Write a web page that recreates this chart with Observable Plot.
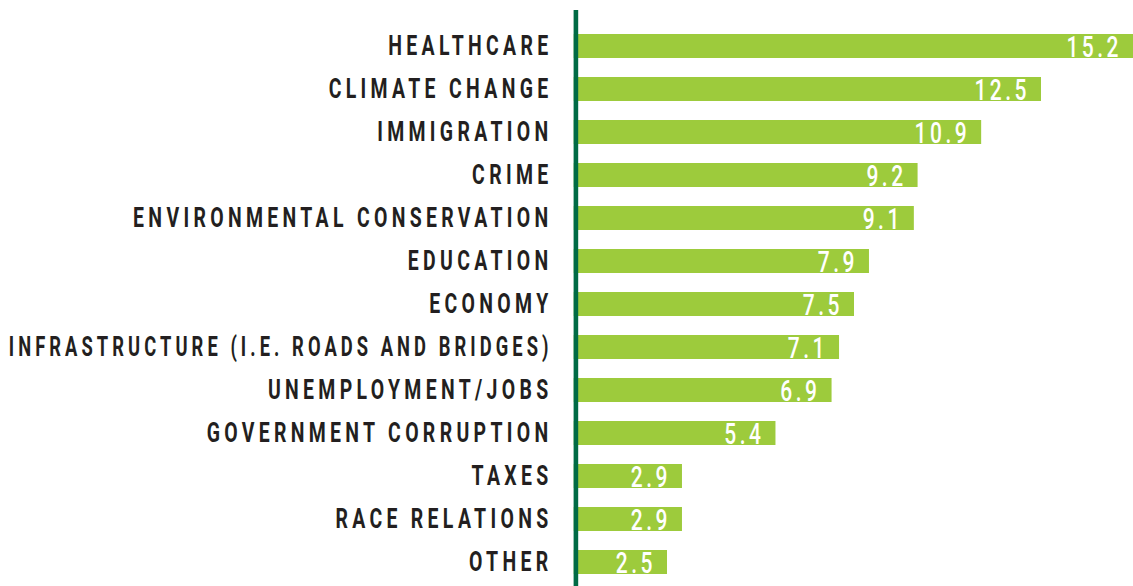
<!DOCTYPE html>
<html>
<head>
<meta charset="utf-8">
<script src="https://cdn.jsdelivr.net/npm/d3@7"></script>
<script src="https://cdn.jsdelivr.net/npm/@observablehq/plot@0.6"></script>
<style>
  html, body { margin: 0; padding: 0; background: #fff; overflow: hidden; }
  #chart svg { overflow: hidden; }
  .yl text { letter-spacing: 6px; }
  .vl text { letter-spacing: 5px; }
</style>
</head>
<body>
<div id="chart"></div>
<script>
const categories = [
  "HEALTHCARE",
  "CLIMATE CHANGE",
  "IMMIGRATION",
  "CRIME",
  "ENVIRONMENTAL CONSERVATION",
  "EDUCATION",
  "ECONOMY",
  "INFRASTRUCTURE (I.E. ROADS AND BRIDGES)",
  "UNEMPLOYMENT/JOBS",
  "GOVERNMENT CORRUPTION",
  "TAXES",
  "RACE RELATIONS",
  "OTHER"
];
const values = [15.2, 12.5, 10.9, 9.2, 9.1, 7.9, 7.5, 7.1, 6.9, 5.4, 2.9, 2.9, 2.5];
const valueLabels = ["15.2", "12.5", "10.9", "9.2", "9.1", "7.9", "7.5", "7.1", "6.9", "5.4", "2.9", "2.9", "2.5"];

const data = categories.map((c, i) => ({category: c, value: values[i], label: valueLabels[i]}));

const W = 1133, H = 586;
const marginLeft = 573.5;
const pxPerUnit = 37.4;
const xMax = (W - marginLeft) / pxPerUnit;
const tickPadding = 21.5;
const labelSqueeze = 0.72;
const valueSqueeze = 0.7;

const chart = Plot.plot({
  width: W,
  height: H,
  marginLeft: marginLeft,
  marginRight: 0,
  marginTop: 24.4,
  marginBottom: 3.4,
  style: {background: "#fff"},
  x: {domain: [0, xMax], axis: null},
  y: {domain: categories, paddingInner: 0.443, paddingOuter: 0.2, label: null},
  marks: [
    Plot.barX(data, {x: "value", y: "category", fill: "#9DCB3C", clip: true}),
    Plot.text(data, {
      x: d => Math.min(d.value, xMax), y: "category", text: "label",
      textAnchor: "end", dx: -11.5, dy: 1, fill: "#fff",
      fontSize: 30, fontWeight: 500, fontFamily: "Roboto, sans-serif",
      className: "vl"
    }),
    Plot.ruleX([0], {stroke: "#006B45", strokeWidth: 4.6, dx: 1.9, insetTop: -14.4, insetBottom: -4}),
    Plot.axisY({
      tickSize: 0, tickPadding: tickPadding, fontSize: 27, fontWeight: "bold",
      fontFamily: "Roboto, sans-serif",
      fill: "#231F20", label: null, className: "yl"
    })
  ]
});

document.getElementById("chart").appendChild(chart);

// condense the lettering horizontally, keeping each text's anchor point fixed;
// a label too long for the left margin is condensed a little more to fit
const avail = marginLeft - tickPadding - 8;
function squeezeTexts(selector, base, fit) {
  d3.select(chart).selectAll(selector).each(function() {
    const t = d3.select(this);
    let s = base;
    if (fit) {
      const natural = this.getComputedTextLength();
      if (natural * s > avail) s = avail / natural;
    }
    const xa = t.attr("x");
    const tr = t.attr("transform") || "";
    let X = 0;
    if (xa != null && !isNaN(+xa)) { X = +xa; t.attr("x", null); }
    t.attr("transform", `${tr} translate(${X},0) scale(${s},1)`);
  });
}
squeezeTexts(".yl text", labelSqueeze, true);
squeezeTexts(".vl text", valueSqueeze, false);
</script>
</body>
</html>
